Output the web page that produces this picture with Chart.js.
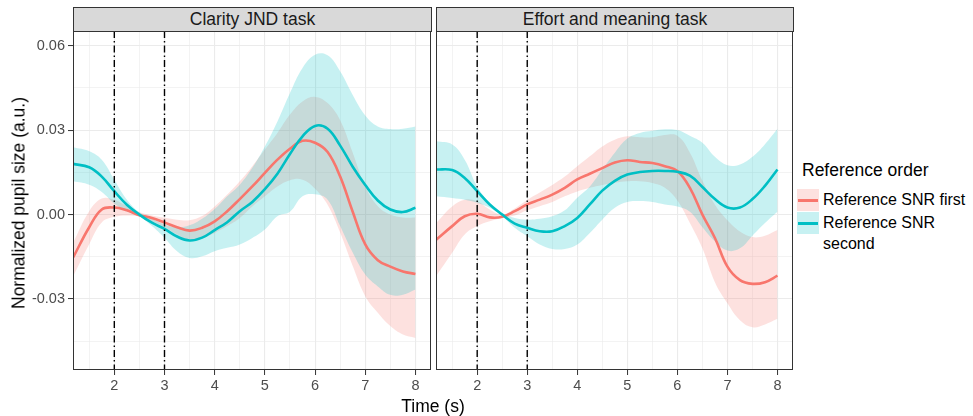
<!DOCTYPE html>
<html>
<head>
<meta charset="utf-8">
<script src="https://cdn.jsdelivr.net/npm/chart.js@4.4.1/dist/chart.umd.min.js"></script>
<style>
  body { margin: 0; background: #fff; font-family: "Liberation Sans", Arial, sans-serif; }
  #wrap { position: relative; width: 973px; height: 416px; overflow: hidden; }
  canvas { position: absolute; top: 0; }
  .strip { position: absolute; top: 7px; height: 25px; box-sizing: border-box; background: #d9d9d9;
           border: 1px solid #333; color: #1a1a1a; font-size: 17.5px; text-align: center; line-height: 23px; }
  .lbl { position: absolute; white-space: nowrap; color: #000; }
  .key { position: absolute; left: 797px; width: 22px; height: 22px; }
  .key i { position: absolute; left: 1px; right: 1px; top: 10px; height: 2.6px; }
</style>
</head>
<body>
<div id="wrap">
  <canvas id="c1" width="433" height="416" style="left:0"></canvas>
  <canvas id="c2" width="359" height="416" style="left:436px"></canvas>
  <div class="strip" id="s1" style="left:73px;width:359px"></div>
  <div class="strip" id="s2" style="left:436px;width:358px"></div>
  <div class="lbl" style="left:19px;top:203px;font-size:17.5px;transform:translate(-50%,-50%) rotate(-90deg)">Normalized pupil size (a.u.)</div>
  <div class="lbl" style="left:433px;top:406px;font-size:17.5px;transform:translate(-50%,-50%)">Time (s)</div>
  <div class="lbl" style="left:802px;top:170px;font-size:17.5px;transform:translateY(-50%)">Reference order</div>
  <div class="key" style="top:189px;background:rgba(248,118,109,0.22)"><i style="background:#F8766D"></i></div>
  <div class="key" style="top:212px;background:rgba(0,191,196,0.22)"><i style="background:#00BFC4"></i></div>
  <div class="lbl" id="l1" style="left:823px;top:200px;font-size:16px;transform:translateY(-50%)"></div>
  <div class="lbl" id="l2" style="left:823px;top:223px;font-size:16px;transform:translateY(-50%)"></div>
  <div class="lbl" id="l3" style="left:823px;top:243.5px;font-size:16px;transform:translateY(-50%)"></div>
</div>
<script>
// facets and legend
const panels = ["Clarity JND task", "Effort and meaning task"];
const seriesNames = ["Reference SNR first", "Reference SNR second"];

// time axis (s)
const times = [1.18, 1.5, 1.75, 2, 2.25, 2.5, 2.75, 3, 3.25, 3.5, 3.75, 4, 4.25, 4.5, 4.75, 5,
               5.25, 5.5, 5.75, 6, 6.25, 6.5, 6.75, 7, 7.25, 7.5, 7.75, 8];

// Clarity JND task
const jndFirst   = [-0.0152, -0.0045, 0.0018, 0.0025, 0.0015, -0.0002, -0.0012, -0.0028, -0.0045, -0.0057, -0.0047, -0.0024, 0.0012, 0.0055,
                    0.010, 0.0148, 0.0195, 0.0234, 0.0262, 0.0255, 0.0222, 0.0135, 0.001, -0.0106, -0.0162, -0.0185, -0.0202, -0.0211];
const jndFirstHi = [-0.010, 0.0012, 0.0057, 0.0053, 0.003, 0.0008, -0.0003, -0.0011, -0.0018, -0.002, -0.0005, 0.0029, 0.0071, 0.0118,
                    0.0172, 0.0231, 0.029, 0.0355, 0.0402, 0.0418, 0.0396, 0.0335, 0.022, 0.010, 0.003, 0.0, -0.001, -0.001];
const jndFirstLo = [-0.0219, -0.0105, -0.0028, -0.0008, -0.0003, -0.0007, -0.0024, -0.0045, -0.0071, -0.0089, -0.0083, -0.0065, -0.0041, -0.0012,
                    0.0029, 0.0065, 0.010, 0.0122, 0.0124, 0.0092, 0.0035, -0.0064, -0.0183, -0.029, -0.0349, -0.0396, -0.0426, -0.0438];
const jndSecond   = [0.018, 0.0168, 0.0135, 0.0083, 0.0035, 0.0, -0.0029, -0.0051, -0.0078, -0.0092, -0.0082, -0.0055, -0.0027, 0.0012,
                     0.0045, 0.009, 0.0145, 0.0215, 0.0278, 0.0315, 0.0305, 0.0245, 0.017, 0.0105, 0.005, 0.0018, 0.0009, 0.0024];
const jndSecondHi = [0.0239, 0.0225, 0.0195, 0.0124, 0.0053, 0.0008, -0.0015, -0.0035, -0.0045, -0.0038, -0.0015, 0.002, 0.0065, 0.0106,
                     0.0166, 0.0242, 0.0331, 0.0432, 0.0521, 0.0568, 0.0566, 0.0509, 0.0425, 0.0352, 0.0313, 0.0304, 0.0305, 0.0313];
const jndSecondLo = [0.0118, 0.0106, 0.008, 0.0039, 0.0012, -0.0006, -0.0041, -0.0083, -0.013, -0.0154, -0.0148, -0.013, -0.0118, -0.0106,
                     -0.0083, -0.0053, -0.0006, 0.001, 0.0065, 0.0072, 0.0053, -0.0041, -0.0135, -0.0213, -0.0255, -0.0285, -0.0285, -0.0266];

// Effort and meaning task
const effFirst   = [-0.0089, -0.0041, -0.0006, 0.0003, -0.001, -0.0008, 0.0012, 0.0036, 0.0053, 0.0071, 0.0095, 0.0125, 0.0145, 0.0165,
                    0.0185, 0.0193, 0.0187, 0.0183, 0.0172, 0.0155, 0.0095, 0.0, -0.0083, -0.0185, -0.0233, -0.0246, -0.024, -0.0217];
const effFirstHi = [-0.003, 0.0029, 0.0053, 0.0047, 0.0018, 0.0, 0.0022, 0.0052, 0.0078, 0.0105, 0.0135, 0.0172, 0.0207, 0.0242,
                    0.0266, 0.0278, 0.0275, 0.0275, 0.0283, 0.028, 0.022, 0.012, 0.0035, -0.002, -0.006, -0.008, -0.0075, -0.0055];
const effFirstLo = [-0.0219, -0.0136, -0.0071, -0.0041, -0.0024, -0.0012, -0.0003, 0.0015, 0.003, 0.0045, 0.0065, 0.0082, 0.0095, 0.0105,
                    0.0113, 0.0118, 0.0118, 0.0112, 0.0095, 0.005, -0.003, -0.012, -0.024, -0.0315, -0.0375, -0.040, -0.039, -0.037];
const effSecond   = [0.016, 0.0158, 0.013, 0.0083, 0.0036, 0.0, -0.0032, -0.0047, -0.0059, -0.0059, -0.0041, -0.0012, 0.0036, 0.0085,
                     0.012, 0.0142, 0.0151, 0.0155, 0.0155, 0.0152, 0.0138, 0.0098, 0.0055, 0.0025, 0.0025, 0.0055, 0.0102, 0.016];
const effSecondHi = [0.026, 0.0249, 0.0195, 0.010, 0.0042, 0.0006, -0.0012, -0.0018, -0.0015, -0.0006, 0.0015, 0.006, 0.010, 0.016,
                     0.022, 0.027, 0.029, 0.0298, 0.0303, 0.030, 0.028, 0.0255, 0.0205, 0.0175, 0.0178, 0.0205, 0.025, 0.0305];
const effSecondLo = [0.0065, 0.0059, 0.0053, 0.0042, 0.0024, -0.0006, -0.0047, -0.0077, -0.0106, -0.0122, -0.0122, -0.0106, -0.0065, -0.0018,
                     0.0024, 0.0045, 0.0048, 0.0045, 0.0036, 0.0029, 0.001, -0.0045, -0.0095, -0.0128, -0.012, -0.0075, -0.003, 0.001];

// axes
const xGrid = [1.5, 2, 2.5, 3, 3.5, 4, 4.5, 5, 5.5, 6, 6.5, 7, 7.5, 8];
const xTicks = [2, 3, 4, 5, 6, 7, 8];
const yGrid = [-0.045, -0.03, -0.015, 0, 0.015, 0.03, 0.045, 0.06];
const yTicks = [-0.03, 0, 0.03, 0.06];
const markers = [2, 3]; // dash-dot reference lines
const xRange = [1.177, 8.31];
const yRange = [-0.0552, 0.0652];

const RED = "#F8766D", TEAL = "#00BFC4";
const RED_FILL = "rgba(248,118,109,0.22)", TEAL_FILL = "rgba(0,191,196,0.22)";

document.getElementById("s1").textContent = panels[0];
document.getElementById("s2").textContent = panels[1];
document.getElementById("l1").textContent = seriesNames[0];
const parts = seriesNames[1].split(" ");
document.getElementById("l2").textContent = parts.slice(0, 2).join(" ");
document.getElementById("l3").textContent = parts.slice(2).join(" ");

const isMajor = (v, list) => list.some(t => Math.abs(t - v) < 1e-9);
const pts = vals => times.map((t, i) => ({ x: t, y: vals[i] }));

const panelDeco = {
  id: "panelDeco",
  afterDatasetsDraw(chart) {
    const { ctx, chartArea: a, scales } = chart;
    ctx.save();
    ctx.beginPath();
    ctx.rect(a.left, a.top, a.right - a.left, a.bottom - a.top);
    ctx.clip();
    ctx.strokeStyle = "#000";
    ctx.lineWidth = 1.4;
    ctx.setLineDash([7, 3, 1.5, 3]);
    markers.forEach(m => {
      const px = scales.x.getPixelForValue(m);
      ctx.beginPath();
      ctx.moveTo(px, a.top);
      ctx.lineTo(px, a.bottom);
      ctx.stroke();
    });
    ctx.restore();
  },
  afterDraw(chart) {
    const { ctx, chartArea: a } = chart;
    ctx.save();
    ctx.strokeStyle = "#333";
    ctx.lineWidth = 1;
    ctx.strokeRect(a.left + 0.5, a.top + 0.5, a.right - a.left - 1, a.bottom - a.top - 1);
    ctx.restore();
  }
};

function makeChart(id, first, firstHi, firstLo, second, secondHi, secondLo, showY) {
  const line = (data, color) => ({ data: pts(data), borderColor: color, borderWidth: 2.6, pointRadius: 0, fill: false });
  const edge = (data, fill, color) => ({ data: pts(data), borderWidth: 0, pointRadius: 0, fill: fill, backgroundColor: color });
  return new Chart(document.getElementById(id), {
    type: "line",
    data: {
      datasets: [
        line(second, TEAL),
        line(first, RED),
        edge(secondHi, 3, TEAL_FILL),
        edge(secondLo, false, TEAL_FILL),
        edge(firstHi, 5, RED_FILL),
        edge(firstLo, false, RED_FILL)
      ]
    },
    options: {
      responsive: false,
      animation: false,
      events: [],
      layout: { padding: { top: 31, right: 2, left: 0, bottom: 0 } },
      elements: { line: { tension: 0.4 } },
      plugins: { legend: { display: false }, tooltip: { enabled: false } },
      scales: {
        x: {
          type: "linear",
          min: xRange[0],
          max: xRange[1],
          afterBuildTicks: s => { s.ticks = xGrid.map(v => ({ value: v })); },
          afterFit: s => { s.height = 46; },
          border: { display: false },
          grid: {
            color: "#ebebeb",
            lineWidth: c => isMajor(c.tick.value, xTicks) ? 1.1 : 0.6,
            tickLength: 5,
            tickColor: c => isMajor(c.tick.value, xTicks) ? "#333" : "rgba(0,0,0,0)",
            tickWidth: 1
          },
          ticks: {
            autoSkip: false,
            maxRotation: 0,
            padding: 2,
            color: "#4d4d4d",
            font: { size: 14.5, family: "'Liberation Sans', Arial, sans-serif" },
            callback: v => isMajor(v, xTicks) ? String(v) : ""
          }
        },
        y: {
          min: yRange[0],
          max: yRange[1],
          afterBuildTicks: s => { s.ticks = yGrid.map(v => ({ value: v })); },
          afterFit: s => { s.width = showY ? 73 : 0; },
          border: { display: false },
          grid: {
            color: "#ebebeb",
            lineWidth: c => isMajor(c.tick.value, yTicks) ? 1.1 : 0.6,
            drawTicks: showY,
            tickLength: 5,
            tickColor: c => isMajor(c.tick.value, yTicks) ? "#333" : "rgba(0,0,0,0)",
            tickWidth: 1
          },
          ticks: {
            display: showY,
            padding: 3,
            color: "#4d4d4d",
            font: { size: 14.5, family: "'Liberation Sans', Arial, sans-serif" },
            callback: v => isMajor(v, yTicks) ? v.toFixed(2) : ""
          }
        }
      }
    },
    plugins: [panelDeco]
  });
}

makeChart("c1", jndFirst, jndFirstHi, jndFirstLo, jndSecond, jndSecondHi, jndSecondLo, true);
makeChart("c2", effFirst, effFirstHi, effFirstLo, effSecond, effSecondHi, effSecondLo, false);
</script>
</body>
</html>
